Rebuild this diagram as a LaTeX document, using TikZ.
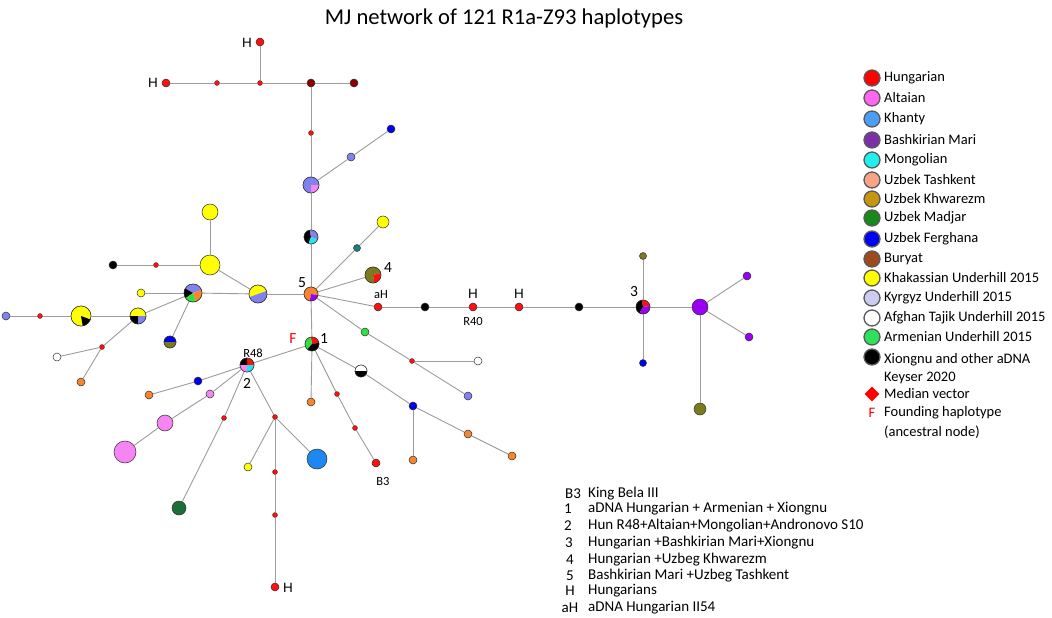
\documentclass[tikz,border=0pt]{standalone}
\usepackage{fontspec}
\setmainfont{Carlito}
\newfontfamily\arialf{Liberation Sans}
\usetikzlibrary{shapes.geometric}
\definecolor{edgegray}{HTML}{9C9C9C}
\definecolor{outl}{HTML}{303030}
\definecolor{hred}{HTML}{FF1010}
\definecolor{dred}{HTML}{8A0000}
\definecolor{lav}{HTML}{8282EE}
\definecolor{pnk}{HTML}{F684F2}
\definecolor{cyn}{HTML}{22E6F0}
\definecolor{orng}{HTML}{F5862E}
\definecolor{purp}{HTML}{9A00F2}
\definecolor{olv}{HTML}{7C7A1E}
\definecolor{blu}{HTML}{0000F0}
\definecolor{khb}{HTML}{1E88F0}
\definecolor{dgrn}{HTML}{1A6E36}
\definecolor{grn}{HTML}{30E040}
\definecolor{teal2}{HTML}{1A7F7F}
\definecolor{yel}{HTML}{FFFF00}
% legend colours
\definecolor{lHun}{HTML}{FF0000}
\definecolor{lAlt}{HTML}{FF66F2}
\definecolor{lKha}{HTML}{4A9EF5}
\definecolor{lBas}{HTML}{7B30A8}
\definecolor{lMon}{HTML}{1EF0F0}
\definecolor{lTas}{HTML}{F9A488}
\definecolor{lKhw}{HTML}{C8960C}
\definecolor{lMad}{HTML}{178A1A}
\definecolor{lFer}{HTML}{0000F0}
\definecolor{lBur}{HTML}{9E4A1C}
\definecolor{lKhk}{HTML}{FFFF00}
\definecolor{lKyr}{HTML}{CCCCF2}
\definecolor{lAfg}{HTML}{FFFFFF}
\definecolor{lArm}{HTML}{2EE05A}
\definecolor{lXio}{HTML}{000000}
\newcommand\hpie[3]{%
  \foreach \a/\b/\c in {#3} {\fill[\c] (#1.center) -- ++(\a:#2pt) arc[start angle=\a, end angle=\b, radius=#2pt] -- cycle;}
  \draw[outl, line width=0.5pt] (#1.center) circle[radius=#2pt];}
\tikzset{
  edge/.style={draw=edgegray, line width=0.9pt},
  hap/.style={circle, draw=outl, line width=0.5pt, inner sep=0pt, minimum size={2*#1pt}},
  med/.style={circle, fill=hred, draw=outl, line width=0.35pt, inner sep=0pt, minimum size=5pt},
  leg/.style={circle, draw=outl!80, line width=1.3pt, inner sep=0pt, minimum size=16pt},
  legtext/.style={anchor=west, inner sep=0pt, font=\fontsize{14.5}{17}\selectfont},
  keytext/.style={anchor=west, inner sep=0pt, font=\fontsize{15}{17}\selectfont},
  keylab/.style={inner sep=0pt, font=\fontsize{15}{17}\selectfont},
  hlab/.style={inner sep=0pt, font=\arialf\fontsize{13.5}{15}\selectfont},
  numlab/.style={inner sep=0pt, font=\fontsize{15.5}{17}\selectfont},
  smlab/.style={inner sep=0pt, font=\fontsize{12.5}{14}\selectfont},
}
\begin{document}
\begin{tikzpicture}[x=1pt,y=1pt]
\useasboundingbox (0,0) rectangle (1052,-618);
\fill[white] (0,0) rectangle (1052,-618);
\node[inner sep=0pt, font=\fontsize{22.6}{26}\selectfont] (title) at (504,-18) {MJ network of 121 R1a-Z93 haplotypes};
% ---------- nodes ----------
\node[hap=4, fill=hred] (hT) at (260,-42) {};
\node[hap=4, fill=hred] (hL) at (166,-83) {};
\node[med] (m1) at (217,-83) {};
\node[med] (m2) at (260,-83) {};
\node[hap=4, fill=dred] (dr1) at (311,-83) {};
\node[hap=4, fill=dred] (dr2) at (354,-83) {};
\node[med] (m3) at (311,-133) {};
\node[hap=8] (pA) at (311,-185) {};
\node[hap=4, fill=lav] (lv1) at (351,-157) {};
\node[hap=4, fill=blu] (bl1) at (391,-129) {};
\node[hap=7] (pB) at (311,-237) {};
\node[hap=7] (n5) at (311,-294) {};
\node[hap=3.5, fill=teal2] (tl) at (357,-248) {};
\node[hap=6, fill=yel] (yA) at (383,-222) {};
\node[hap=8] (n4) at (373,-275) {};
\node[hap=4, fill=hred] (aH) at (378,-307) {};
\node[hap=4, fill=black] (bk1) at (425,-307) {};
\node[hap=4, fill=hred] (r40) at (473,-307) {};
\node[hap=4, fill=hred] (rH) at (519,-307) {};
\node[hap=4, fill=black] (bk2) at (579,-307) {};
\node[hap=7] (n3) at (643,-307) {};
\node[hap=3.5, fill=olv] (ol1) at (643,-256) {};
\node[hap=3.5, fill=blu] (bl2) at (643,-363) {};
\node[hap=8, fill=purp] (pu1) at (700,-307) {};
\node[hap=4, fill=purp] (pu2) at (747,-276) {};
\node[hap=4, fill=purp] (pu3) at (749,-337) {};
\node[hap=6, fill=olv] (ol2) at (700,-409) {};
\node[hap=4, fill=grn] (gr1) at (365,-332) {};
\node[med] (m4) at (412,-361) {};
\node[hap=4, fill=white] (wh1) at (478,-361) {};
\node[hap=4, fill=lav] (lv2) at (468,-396) {};
\node[hap=9] (yl) at (258,-294) {};
\node[hap=10, fill=yel] (yB) at (210,-265) {};
\node[hap=8, fill=yel] (yC) at (210,-212) {};
\node[med] (m5) at (156,-265) {};
\node[hap=4, fill=black] (bk3) at (113,-265) {};
\node[hap=9] (pC) at (193,-293) {};
\node[hap=4, fill=yel] (yD) at (141,-293) {};
\node[hap=8] (pD) at (138,-316) {};
\node[hap=10] (pac) at (81,-316) {};
\node[med] (m6) at (40,-316) {};
\node[hap=4, fill=lav] (lv3) at (6,-316) {};
\node[hap=6] (bo) at (170,-342) {};
\node[med] (m7) at (102,-347) {};
\node[hap=4, fill=white] (wh2) at (57,-357) {};
\node[hap=4, fill=orng] (or1) at (81,-382) {};
\node[hap=7] (n1) at (312,-344) {};
\node[hap=7] (n2) at (247,-365) {};
\node[hap=4, fill=blu] (bl3) at (198,-381) {};
\node[hap=4, fill=orng] (or2) at (149,-395) {};
\node[hap=4, fill=pnk] (pk1) at (210,-394) {};
\node[hap=8, fill=pnk] (pk2) at (165,-423) {};
\node[hap=11, fill=pnk] (pk3) at (125,-452) {};
\node[med] (m8) at (224,-418) {};
\node[hap=7, fill=dgrn] (dg) at (179,-508) {};
\node[med] (m9) at (275,-417) {};
\node[hap=4, fill=yel] (yE) at (248,-467) {};
\node[hap=10, fill=khb] (kb) at (317,-459) {};
\node[med] (m10) at (275,-472) {};
\node[med] (m11) at (275,-515) {};
\node[hap=4, fill=hred] (hB) at (275,-587) {};
\node[hap=4, fill=orng] (or3) at (311,-402) {};
\node[med] (m12) at (337,-394) {};
\node[med] (m13) at (355,-428) {};
\node[hap=4, fill=hred] (b3) at (376,-463) {};
\node[hap=6] (hf) at (361,-371) {};
\node[hap=4, fill=blu] (bl4) at (413,-406) {};
\node[hap=4, fill=orng] (or4) at (413,-460) {};
\node[hap=4, fill=orng] (or5) at (468,-434) {};
\node[hap=4, fill=orng] (or6) at (512,-456) {};
% ---------- edges ----------
\draw[edge] (hL) -- (m1); \draw[edge] (m1) -- (m2); \draw[edge] (m2) -- (dr1); \draw[edge] (dr1) -- (dr2);
\draw[edge] (hT) -- (m2);
\draw[edge] (dr1) -- (m3); \draw[edge] (m3) -- (pA); \draw[edge] (pA) -- (pB); \draw[edge] (pB) -- (n5); \draw[edge] (n5) -- (n1);
\draw[edge] (pA) -- (lv1); \draw[edge] (lv1) -- (bl1);
\draw[edge] (n5) -- (tl); \draw[edge] (tl) -- (yA);
\draw[edge] (n5) -- (n4);
\draw[edge] (n5) -- (aH); \draw[edge] (aH) -- (bk1); \draw[edge] (bk1) -- (r40); \draw[edge] (r40) -- (rH); \draw[edge] (rH) -- (bk2); \draw[edge] (bk2) -- (n3); \draw[edge] (n3) -- (pu1);
\draw[edge] (n3) -- (ol1); \draw[edge] (n3) -- (bl2);
\draw[edge] (pu1) -- (pu2); \draw[edge] (pu1) -- (pu3); \draw[edge] (pu1) -- (ol2);
\draw[edge] (n5) -- (gr1); \draw[edge] (gr1) -- (m4); \draw[edge] (m4) -- (lv2); \draw[edge] (m4) -- (wh1);
\draw[edge] (n5) -- (yl); \draw[edge] (yl) -- (pC); \draw[edge] (pC) -- (yD);
\draw[edge] (yl) -- (yB); \draw[edge] (yB) -- (yC); \draw[edge] (yB) -- (m5); \draw[edge] (m5) -- (bk3);
\draw[edge] (pC) -- (pD); \draw[edge] (pD) -- (pac); \draw[edge] (pac) -- (m6); \draw[edge] (m6) -- (lv3);
\draw[edge] (pC) -- (bo);
\draw[edge] (pD) -- (m7); \draw[edge] (m7) -- (wh2); \draw[edge] (m7) -- (or1);
\draw[edge] (n1) -- (n2);
\draw[edge] (n1) -- (or3);
\draw[edge] (n1) -- (m12); \draw[edge] (m12) -- (m13); \draw[edge] (m13) -- (b3);
\draw[edge] (n1) -- (hf); \draw[edge] (hf) -- (bl4); \draw[edge] (bl4) -- (or5); \draw[edge] (or5) -- (or6); \draw[edge] (bl4) -- (or4);
\draw[edge] (n2) -- (bl3); \draw[edge] (bl3) -- (or2);
\draw[edge] (n2) -- (pk1); \draw[edge] (pk1) -- (pk2); \draw[edge] (pk2) -- (pk3);
\draw[edge] (n2) -- (m8); \draw[edge] (m8) -- (dg);
\draw[edge] (n2) -- (m9); \draw[edge] (m9) -- (yE); \draw[edge] (m9) -- (kb); \draw[edge] (m9) -- (m10); \draw[edge] (m10) -- (m11); \draw[edge] (m11) -- (hB);
% ---------- pies ----------
\hpie{pA}{8}{0/270/lav, 270/360/pnk}
\hpie{pB}{7}{100/250/black, 250/340/cyn, 340/460/lav}
\hpie{n5}{7}{-10/260/orng, 260/350/purp}
\hpie{n4}{8}{15/280/olv, 280/375/hred}
\hpie{n3}{7}{10/100/hred, 100/240/black, 240/370/purp}
\hpie{yl}{9}{20/200/yel, 200/380/lav}
\hpie{pC}{9}{20/150/lav, 150/215/black, 215/290/grn, 290/380/orng}
\hpie{pD}{8}{0/180/yel, 180/270/black, 270/360/lav}
\hpie{pac}{10}{-20/280/yel, 280/340/black}
\hpie{bo}{6}{0/180/blu, 180/360/olv}
\hpie{n1}{7}{10/100/hred, 100/230/grn, 230/370/black}
\hpie{n2}{7}{0/90/hred, 90/180/black, 180/270/pnk, 270/360/cyn}
\hpie{hf}{6}{0/180/white, 180/360/black}
% ---------- network labels ----------
\node[hlab] (lhT) at (247,-43) {H};
\node[hlab] (lhL) at (153,-83) {H};
\node[hlab] (lhB) at (288,-588) {H};
\node[hlab] (lr40) at (473,-294) {H};
\node[hlab] (lrH) at (519,-294) {H};
\node[smlab] (laH) at (381,-295) {aH};
\node[smlab] (lR40) at (473,-321) {R40};
\node[smlab] (lR48) at (253,-353) {R48};
\node[smlab] (lB3) at (383,-481) {B3};
\node[numlab, text=red] (lF) at (293,-339) {F};
\node[numlab] (l1) at (324,-339) {1};
\node[numlab] (l2) at (247,-383) {2};
\node[numlab] (l3) at (634,-292) {3};
\node[numlab] (l4) at (388,-268) {4};
\node[numlab] (l5) at (302,-283) {5};
% ---------- legend ----------
\foreach \y/\c/\t [count=\i] in {78/lHun/Hungarian, 98/lAlt/Altaian, 119/lKha/Khanty, 140/lBas/Bashkirian Mari, 160/lMon/Mongolian, 180/lTas/Uzbek Tashkent, 199/lKhw/Uzbek Khwarezm, 218/lMad/Uzbek Madjar, 239/lFer/Uzbek Ferghana, 259/lBur/Buryat, 278/lKhk/Khakassian Underhill 2015, 298/lKyr/Kyrgyz Underhill 2015, 318/lAfg/Afghan Tajik Underhill 2015, 337/lArm/Armenian Underhill 2015} {
  \node[leg, fill=\c] (lg\i) at (872,-\y) {};
  \node[legtext] (lt\i) at (884,-\y) {\t};
}
\node[leg, fill=black] (lgX) at (872,-357) {};
\node[legtext] (ltX) at (884,-360) {Xiongnu and other aDNA};
\node[legtext] (ltX2) at (884,-378) {Keyser 2020};
\node[diamond, fill=red, inner sep=0pt, minimum size=15pt] (lgM) at (872,-394) {};
\node[legtext] (ltM) at (884,-394) {Median vector};
\node[inner sep=0pt, text=red, font=\fontsize{14.5}{17}\selectfont] (lgF) at (872,-413) {F};
\node[legtext] (ltF) at (884,-413) {Founding haplotype};
\node[legtext] (ltF2) at (884,-432) {(ancestral node)};
% ---------- key ----------
\foreach \x/\y/\l/\t [count=\i] in {573/494/B3/King Bela III, 568/509/1/aDNA Hungarian + Armenian + Xiongnu, 568/526/2/Hun R48+Altaian+Mongolian+Andronovo S10, 569/543/3/Hungarian +Bashkirian Mari+Xiongnu, 570/560/4/Hungarian +Uzbeg Khwarezm, 570/576/5/Bashkirian Mari +Uzbeg Tashkent, 570/591/H/Hungarians, 570/608/aH/aDNA Hungarian II54} {
  \node[keylab] (kl\i) at (\x,-\y) {\l};
  \node[keytext] (kt\i) at (588,-\y) {\t};
}
\end{tikzpicture}
\end{document}
